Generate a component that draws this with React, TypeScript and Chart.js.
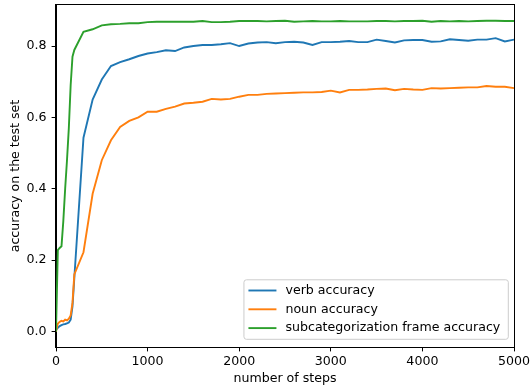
import React, { useEffect, useRef } from "react";
import { Chart, registerables } from "chart.js";

Chart.register(...registerables);

const steps = [0, 20, 40, 60, 80, 100, 120, 140, 160, 180, 200, 300, 400, 500, 600, 700, 800, 900, 1000, 1100, 1200, 1300, 1400, 1500, 1600, 1700, 1800, 1900, 2000, 2100, 2200, 2300, 2400, 2500, 2600, 2700, 2800, 2900, 3000, 3100, 3200, 3300, 3400, 3500, 3600, 3700, 3800, 3900, 4000, 4100, 4200, 4300, 4400, 4500, 4600, 4700, 4800, 4900, 5000];

const verbAccuracy = [0.005, 0.01, 0.015, 0.018, 0.02, 0.021, 0.023, 0.025, 0.033, 0.07, 0.15,
  0.543, 0.65, 0.706, 0.744, 0.755, 0.763, 0.772, 0.779, 0.783, 0.788, 0.786, 0.796, 0.8, 0.803, 0.803, 0.805, 0.808, 0.8, 0.807,
  0.81, 0.811, 0.808, 0.811, 0.812, 0.81, 0.803, 0.811, 0.811, 0.812, 0.814, 0.811, 0.811, 0.818, 0.814, 0.81, 0.816, 0.817, 0.817,
  0.812, 0.813, 0.819, 0.817, 0.815, 0.818, 0.818, 0.822, 0.813, 0.818];

const nounAccuracy = [0.0, 0.022, 0.027, 0.03, 0.028, 0.033, 0.031, 0.036, 0.045, 0.08, 0.16,
  0.222, 0.386, 0.48, 0.536, 0.573, 0.59, 0.6, 0.616, 0.616, 0.624, 0.63, 0.639, 0.641, 0.644, 0.652, 0.65, 0.652, 0.658, 0.663,
  0.663, 0.666, 0.667, 0.668, 0.669, 0.67, 0.67, 0.671, 0.675, 0.67, 0.677, 0.677, 0.678, 0.68, 0.681, 0.676, 0.68, 0.678, 0.677,
  0.682, 0.681, 0.682, 0.683, 0.684, 0.684, 0.688, 0.686, 0.686, 0.682];

const frameAccuracy = [0.0, 0.228, 0.234, 0.239, 0.31, 0.4, 0.48, 0.57, 0.69, 0.77, 0.789,
  0.84, 0.847, 0.858, 0.861, 0.862, 0.864, 0.864, 0.867, 0.868, 0.868, 0.868, 0.868, 0.868, 0.87, 0.867, 0.867, 0.868, 0.87, 0.87,
  0.87, 0.869, 0.87, 0.871, 0.868, 0.869, 0.87, 0.869, 0.869, 0.87, 0.869, 0.869, 0.869, 0.87, 0.87, 0.869, 0.87, 0.87, 0.871,
  0.868, 0.87, 0.869, 0.87, 0.869, 0.87, 0.871, 0.871, 0.87, 0.87];

const seriesLabels = ["verb accuracy", "noun accuracy", "subcategorization frame accuracy"];
const seriesColors = ["#1f77b4", "#ff7f0e", "#2ca02c"];
const xTicks = [0, 1000, 2000, 3000, 4000, 5000];
const yTicks = [0.0, 0.2, 0.4, 0.6, 0.8];

const FONT = "'DejaVu Sans', sans-serif";
const FS = 12.6;

const framePlugin = {
  id: "frame",
  afterDatasetsDraw(chart: any) {
    const { ctx, chartArea } = chart;
    const { left, right, top, bottom } = chartArea;
    ctx.save();
    // legend
    ctx.font = `${FS}px ${FONT}`;
    const labels = chart.data.datasets.map((d: any) => d.label);
    const colors = chart.data.datasets.map((d: any) => d.borderColor);
    const textW = Math.max(...labels.map((l: string) => ctx.measureText(l).width));
    const padL = 4.5, handle = 28, gap = 9, padR = 8;
    const rowH = 18.8;
    const boxW = padL + handle + gap + textW + padR;
    const boxH = 59.5;
    const bx = right - 5.7 - boxW;
    const by = bottom - 7.7 - boxH;
    const r = 2.5;
    ctx.beginPath();
    ctx.moveTo(bx + r, by);
    ctx.lineTo(bx + boxW - r, by);
    ctx.quadraticCurveTo(bx + boxW, by, bx + boxW, by + r);
    ctx.lineTo(bx + boxW, by + boxH - r);
    ctx.quadraticCurveTo(bx + boxW, by + boxH, bx + boxW - r, by + boxH);
    ctx.lineTo(bx + r, by + boxH);
    ctx.quadraticCurveTo(bx, by + boxH, bx, by + boxH - r);
    ctx.lineTo(bx, by + r);
    ctx.quadraticCurveTo(bx, by, bx + r, by);
    ctx.closePath();
    ctx.fillStyle = "rgba(255,255,255,0.8)";
    ctx.fill();
    ctx.strokeStyle = "#cccccc";
    ctx.lineWidth = 1;
    ctx.stroke();
    labels.forEach((l: string, i: number) => {
      const cy = by + 10.7 + i * rowH;
      ctx.beginPath();
      ctx.moveTo(bx + padL, cy);
      ctx.lineTo(bx + padL + handle, cy);
      ctx.strokeStyle = colors[i];
      ctx.lineWidth = 1.9;
      ctx.stroke();
      ctx.fillStyle = "#000";
      ctx.textAlign = "left";
      ctx.textBaseline = "middle";
      ctx.fillText(l, bx + padL + handle + gap, cy);
    });
    // frame
    ctx.strokeStyle = "#000";
    ctx.lineWidth = 1;
    ctx.strokeRect(Math.round(left) - 0.5, Math.round(top) - 0.5, Math.round(right - left) + 1, Math.round(bottom - top) + 1);
    ctx.restore();
  },
};

export default function App() {
  const ref = useRef<HTMLCanvasElement | null>(null);
  useEffect(() => {
    document.body.style.margin = "0";
    if (!ref.current) return;
    const datasets = [verbAccuracy, nounAccuracy, frameAccuracy].map((vals, i) => ({
      label: seriesLabels[i],
      data: steps.map((s, j) => ({ x: s, y: vals[j] })),
      borderColor: seriesColors[i],
      backgroundColor: seriesColors[i],
      borderWidth: 1.9,
      pointRadius: 0,
      tension: 0,
      fill: false,
      order: 2 - i,
    }));
    const chart = new Chart(ref.current, {
      type: "line",
      data: { datasets },
      options: {
        animation: false,
        responsive: false,
        devicePixelRatio: 1,
        layout: { padding: { left: 0, top: 5, right: 18, bottom: 0 } },
        plugins: { legend: { display: false }, tooltip: { enabled: false } },
        scales: {
          x: {
            type: "linear",
            min: 0,
            max: 5000,
            afterBuildTicks: (s: any) => { s.ticks = xTicks.map((v) => ({ value: v })); },
            afterFit: (s: any) => { s.height = 42; s.paddingLeft = 0; s.paddingRight = 0; },
            ticks: { color: "#000", font: { family: FONT, size: FS }, padding: 3, maxRotation: 0, callback: (v: any) => String(v) },
            grid: { display: true, drawOnChartArea: false, drawTicks: true, tickLength: 4.4, tickColor: "#000", tickWidth: 1 },
            border: { display: true, color: "#000", width: 1 },
            title: { display: true, text: "number of steps", color: "#000", font: { family: FONT, size: FS }, padding: { top: 0, bottom: 3 } },
          },
          y: {
            type: "linear",
            min: -0.0435,
            max: 0.915,
            afterBuildTicks: (s: any) => { s.ticks = yTicks.map((v) => ({ value: v })); },
            afterFit: (s: any) => { s.width = 56; s.paddingTop = 0; s.paddingBottom = 0; },
            ticks: { color: "#000", font: { family: FONT, size: FS }, padding: 5, callback: (v: any) => Number(v).toFixed(1) },
            grid: { display: true, drawOnChartArea: false, drawTicks: true, tickLength: 4.4, tickColor: "#000", tickWidth: 1 },
            border: { display: true, color: "#000", width: 1 },
            title: { display: true, text: "accuracy on the test set", color: "#000", font: { family: FONT, size: FS }, padding: { top: 8, bottom: 0 } },
          },
        },
      },
      plugins: [framePlugin],
    });
    return () => chart.destroy();
  }, []);
  return (
    <div style={{ position: "absolute", left: 0, top: 0, width: 532, height: 389, background: "#fff" }}>
      <canvas ref={ref} width={532} height={389} style={{ width: 532, height: 389, display: "block" }} />
    </div>
  );
}
